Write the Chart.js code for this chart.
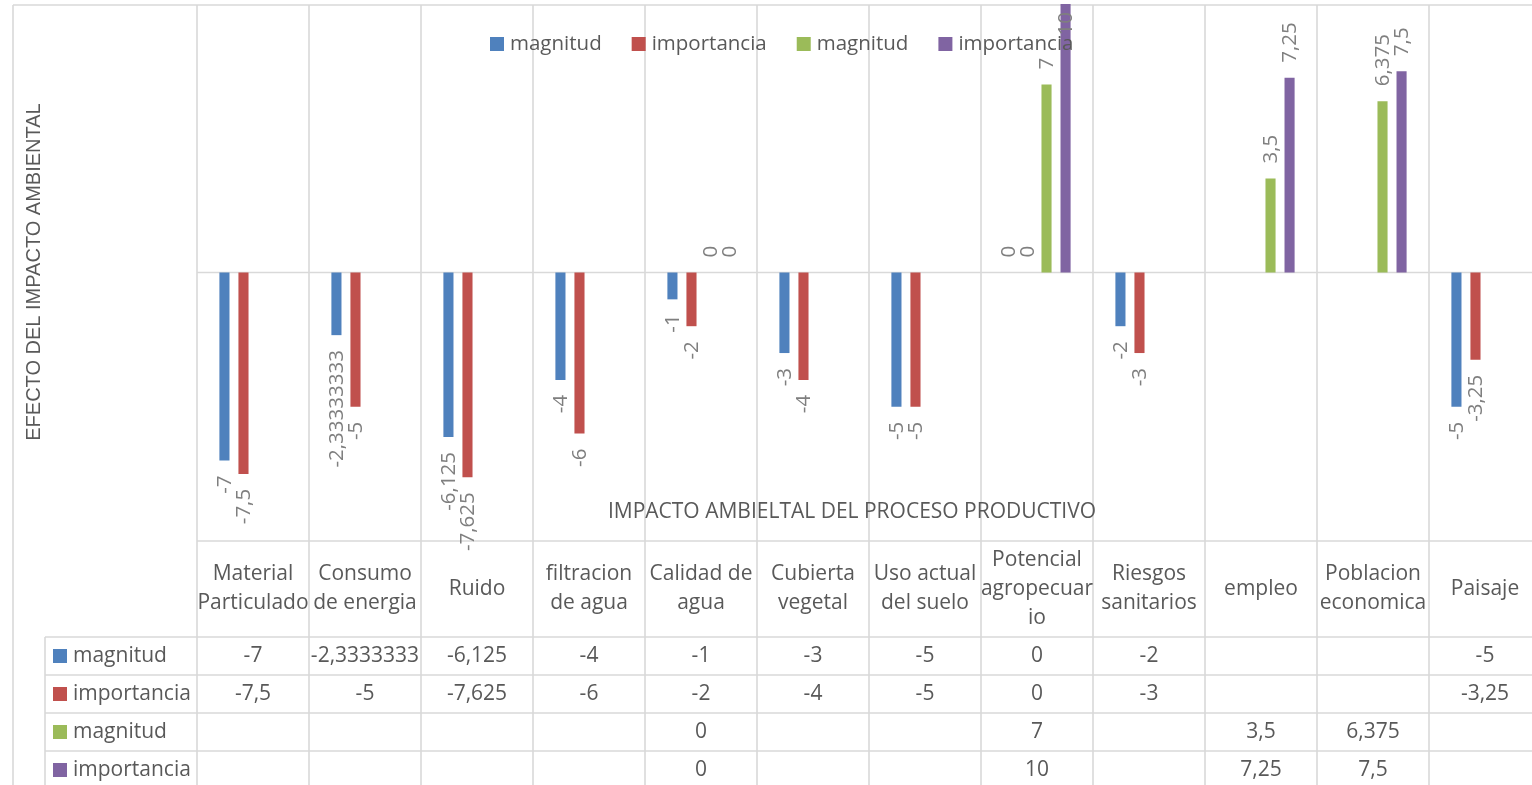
<!DOCTYPE html>
<html>
<head>
<meta charset="utf-8">
<script src="https://cdn.jsdelivr.net/npm/chart.js@4.4.1/dist/chart.umd.min.js"></script>
<style>
  html, body { margin: 0; padding: 0; background: #fff; overflow: hidden; }
  #wrap { position: absolute; left: 0; top: 0; width: 1541px; height: 785px; }
</style>
</head>
<body>
<div id="wrap"><canvas id="chart"></canvas></div>
<script>
// Impact categories (table header lines)
const categories = [
  ["Material", "Particulado"],
  ["Consumo", "de energia"],
  ["Ruido"],
  ["filtracion", "de agua"],
  ["Calidad de", "agua"],
  ["Cubierta", "vegetal"],
  ["Uso actual", "del suelo"],
  ["Potencial", "agropecuar", "io"],
  ["Riesgos", "sanitarios"],
  ["empleo"],
  ["Poblacion", "economica"],
  ["Paisaje"]
];

// Negative impacts
const magnitudNeg    = [-7, -2.33333333, -6.125, -4, -1, -3, -5, 0, -2, null, null, -5];
const importanciaNeg = [-7.5, -5, -7.625, -6, -2, -4, -5, 0, -3, null, null, -3.25];
// Positive impacts
const magnitudPos    = [null, null, null, null, 0, null, null, 7, null, 3.5, 6.375, null];
const importanciaPos = [null, null, null, null, 0, null, null, 10, null, 7.25, 7.5, null];

const seriesNames  = ["magnitud", "importancia", "magnitud", "importancia"];
const seriesColors = ["#4F81BD", "#C0504D", "#9BBB59", "#8064A2"];
const seriesValues = [magnitudNeg, importanciaNeg, magnitudPos, importanciaPos];

const yAxisTitle = "EFECTO DEL IMPACTO AMBIENTAL";
const xAxisTitle = "IMPACTO AMBIELTAL DEL PROCESO PRODUCTIVO";
const yMin = -10, yMax = 10;

const GRID = "#d9d9d9";
const TEXT = "#595959";
const LABEL = "#7f7f7f";
const SANS = "'Open Sans', 'Noto Sans', sans-serif";

function fmt(v, digits) {
  const n = digits == null ? v : Number(v.toFixed(digits));
  return String(n).replace(".", ",");
}

function line(ctx, x1, y1, x2, y2) {
  ctx.beginPath();
  ctx.moveTo(x1, y1);
  ctx.lineTo(x2, y2);
  ctx.stroke();
}

const tablePlugin = {
  id: "tablePlugin",
  beforeDatasetsDraw(chart) {
    const { ctx, chartArea, scales } = chart;
    const xs = scales.x, ys = scales.y;
    const W = chart.width, H = chart.height;
    const step = xs.getPixelForValue(1) - xs.getPixelForValue(0);
    const headBottom = chartArea.bottom + 96;
    const rowH = 38;
    ctx.save();
    ctx.strokeStyle = GRID;
    ctx.lineWidth = 1.6;
    // outer frame
    line(ctx, 13, chartArea.top + 1, W, chartArea.top + 1);
    line(ctx, 13, chartArea.top + 1, 13, H);
    // category boundaries
    for (let i = 0; i <= categories.length; i++) {
      const x = xs.getPixelForValue(0) - step / 2 + i * step;
      line(ctx, x, chartArea.top + 1, x, H);
    }
    // zero line and plot bottom
    const y0 = ys.getPixelForValue(0);
    line(ctx, chartArea.left, y0, W, y0);
    line(ctx, chartArea.left, chartArea.bottom, W, chartArea.bottom);
    // table rows
    line(ctx, 45, headBottom, 45, H);
    for (let r = 0; r <= seriesNames.length; r++) {
      line(ctx, 45, headBottom + r * rowH, W, headBottom + r * rowH);
    }
    ctx.restore();
  },
  afterDatasetsDraw(chart) {
    const { ctx, chartArea, scales } = chart;
    const xs = scales.x, ys = scales.y;
    const headBottom = chartArea.bottom + 96;
    const rowH = 38;

    // value labels on the bars (kept inside the plot area)
    ctx.save();
    ctx.font = "20.5px " + SANS;
    ctx.fillStyle = LABEL;
    ctx.textBaseline = "middle";
    chart.data.datasets.forEach((ds, di) => {
      const meta = chart.getDatasetMeta(di);
      meta.data.forEach((bar, i) => {
        const v = ds.data[i];
        if (v === null || v === undefined) return;
        const text = fmt(v);
        const tw = ctx.measureText(text).width;
        const yv = ys.getPixelForValue(v);
        ctx.save();
        if (v >= 0) {
          let ay = yv - 15;
          if (ay - tw < chartArea.top + 8) ay = chartArea.top + 8 + tw;
          ctx.translate(bar.x, ay);
          ctx.rotate(-Math.PI / 2);
          ctx.textAlign = "left";
        } else {
          ctx.translate(bar.x, yv + 15);
          ctx.rotate(-Math.PI / 2);
          ctx.textAlign = "right";
        }
        ctx.fillText(text, 0, 1);
        ctx.restore();
      });
    });
    ctx.restore();

    // legend
    ctx.save();
    ctx.font = "20.5px " + SANS;
    ctx.textBaseline = "middle";
    ctx.textAlign = "left";
    let cx = 490;
    const ly = 44;
    seriesNames.forEach((name, i) => {
      ctx.fillStyle = seriesColors[i];
      ctx.fillRect(cx, ly - 7, 14, 14);
      ctx.fillStyle = TEXT;
      ctx.fillText(name, cx + 20, ly);
      cx += 20 + ctx.measureText(name).width + 30;
    });
    ctx.restore();

    // axis titles
    ctx.save();
    ctx.fillStyle = TEXT;
    ctx.textAlign = "center";
    ctx.textBaseline = "middle";
    ctx.font = "21px " + SANS;
    ctx.fillText(xAxisTitle, 852, 512);
    ctx.translate(34, 272);
    ctx.rotate(-Math.PI / 2);
    ctx.font = "20px 'Liberation Sans', Arial, sans-serif";
    ctx.fillText(yAxisTitle, 0, 0);
    ctx.restore();

    // data table
    ctx.save();
    ctx.fillStyle = TEXT;
    ctx.font = "21px " + SANS;
    ctx.textBaseline = "middle";
    ctx.textAlign = "center";
    const headMid = (chartArea.bottom + headBottom) / 2;
    categories.forEach((lines, i) => {
      const x = xs.getPixelForValue(i);
      const lh = 29;
      const start = headMid - (lines.length - 1) * lh / 2;
      lines.forEach((t, k) => ctx.fillText(t, x, start + k * lh));
    });
    seriesValues.forEach((vals, r) => {
      const y = headBottom + r * rowH + rowH / 2;
      vals.forEach((v, i) => {
        if (v === null) return;
        ctx.fillText(fmt(v, 7), xs.getPixelForValue(i), y);
      });
    });
    ctx.textAlign = "left";
    seriesNames.forEach((name, r) => {
      const y = headBottom + r * rowH + rowH / 2;
      ctx.fillStyle = seriesColors[r];
      ctx.fillRect(53, y - 7, 14, 14);
      ctx.fillStyle = TEXT;
      ctx.fillText(name, 73, y);
    });
    ctx.restore();
  }
};

new Chart(document.getElementById("chart"), {
  type: "bar",
  data: {
    labels: categories,
    datasets: seriesValues.map((vals, i) => ({
      label: seriesNames[i],
      data: vals,
      backgroundColor: seriesColors[i],
      borderWidth: 0,
      categoryPercentage: 0.68,
      barPercentage: 0.53
    }))
  },
  options: {
    responsive: true,
    maintainAspectRatio: false,
    animation: false,
    layout: { padding: { left: 197, right: 0, top: 4, bottom: 244 } },
    plugins: {
      legend: { display: false },
      tooltip: { enabled: false },
      title: { display: false }
    },
    scales: {
      x: { display: false, offset: true },
      y: { display: false, min: yMin, max: yMax }
    }
  },
  plugins: [tablePlugin]
});
</script>
</body>
</html>
